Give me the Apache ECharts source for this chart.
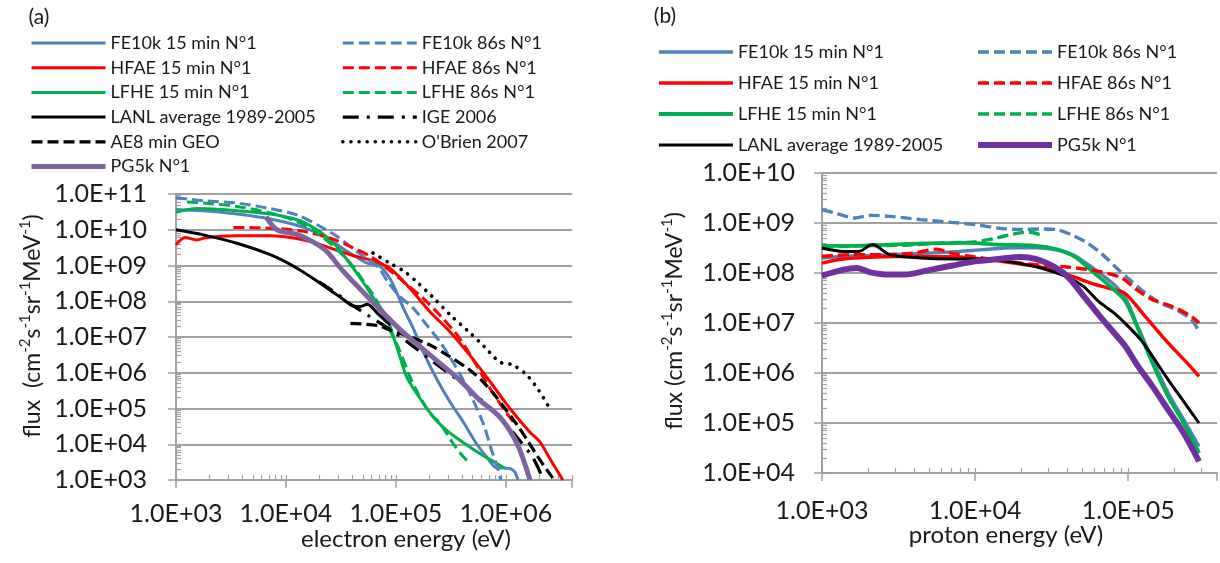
<!DOCTYPE html>
<html><head><meta charset="utf-8">
<script src="https://cdn.jsdelivr.net/npm/echarts@6/dist/echarts.min.js"></script>
<style>html,body{margin:0;padding:0;background:#fff}#c{width:1220px;height:563px}</style>
</head><body><div id="c"></div>
<script>
// ---------- Panel (a): electrons, [energy eV, flux] ----------
const aFE10k15 = [[1.0e3,3.6e10],[1.77e3,3.4e10],[3.57e3,2.75e10],[7.2e3,2.0e10],[1.45e4,1.16e10],[2.37e4,5.8e9],[3.6e4,2.5e9],[5.5e4,1.16e9],[7.2e4,9.4e8],[8.8e4,4.4e8],[1.01e5,1.87e8],[1.17e5,6.4e7],[1.44e5,1.75e7],[1.77e5,3.9e6],[2.34e5,6.9e5],[3.1e5,1.54e5],[4.1e5,4.2e4],[5.4e5,1.05e4],[6.7e5,4.4e3],[8.2e5,2.2e3],[1.09e6,2.1e3],[1.21e6,1.66e3],[1.29e6,1.0e3]];
const aFE10k86 = [[1.0e3,7.8e10],[1.77e3,6.5e10],[3.57e3,5.6e10],[7.2e3,3.9e10],[1.26e4,2.6e10],[2.06e4,1.23e10],[2.92e4,6.5e9],[4.4e4,2.45e9],[6.8e4,9.3e8],[8.8e4,2.9e8],[1.09e5,1.35e8],[1.44e5,6.4e7],[1.9e5,2.2e7],[2.51e5,7.4e6],[3.16e5,2.5e6],[4.0e5,7.1e5],[5.0e5,1.8e5],[6.3e5,3.5e4],[7.4e5,7.0e3],[8.3e5,2.5e3],[9.0e5,1.0e3]];
const aHFAE15 = [[1.0e3,3.8e9],[1.21e3,6.1e9],[1.54e3,5.2e9],[1.9e3,6.1e9],[3.57e3,6.8e9],[7.2e3,6.8e9],[1.1e4,6.1e9],[1.67e4,4.7e9],[2.54e4,3.06e9],[3.86e4,2.0e9],[5.8e4,1.44e9],[8.8e4,8.4e8],[1.34e5,2.3e8],[2.04e5,5.1e7],[3.1e5,1.41e7],[4.7e5,3.1e6],[7.2e5,5.6e5],[1.09e6,1.0e5],[1.65e6,2.2e4],[2.04e6,1.16e4],[2.51e6,4.0e3],[3.3e6,1.0e3]];
const aHFAE86 = [[3.33e3,1.16e10],[7.2e3,1.11e10],[1.45e4,9.0e9],[2.54e4,5.8e9],[3.86e4,3.4e9],[5.9e4,1.78e9],[7.7e4,1.0e9],[1.17e5,3.55e8],[1.77e5,1.21e8],[2.51e5,4.1e7],[3.8e5,9.2e6],[5.4e5,1.64e6],[7.2e5,3.6e5],[9.5e5,1.0e5],[1.17e6,4.2e4]];
const aLFHE15 = [[1.0e3,3.1e10],[1.54e3,3.9e10],[3.57e3,3.4e10],[7.2e3,2.75e10],[1.26e4,1.9e10],[1.92e4,1.0e10],[2.72e4,4.2e9],[3.6e4,1.45e9],[4.76e4,4.4e8],[6.3e4,1.21e8],[8.2e4,3.75e7],[9.5e4,1.02e7],[1.09e5,2.8e6],[1.25e5,7.8e5],[1.54e5,2.7e5],[2.18e5,5.9e4],[2.88e5,2.5e4],[3.8e5,1.32e4],[5.75e5,5.6e3],[8.2e5,2.95e3],[9.8e5,2.14e3]];
const aLFHE86 = [[1.26e3,6.0e10],[1.77e3,5.6e10],[3.57e3,4.5e10],[7.2e3,2.95e10],[1.26e4,1.7e10],[1.92e4,8.1e9],[2.72e4,3.4e9],[3.86e4,1.16e9],[5.1e4,3.55e8],[6.5e4,1.21e8],[8.8e4,1.58e7],[1.09e5,4.0e6],[1.34e5,7.8e5],[1.65e5,2.14e5],[2.04e5,7.4e4],[2.51e5,3.9e4],[3.3e5,1.07e4],[4.1e5,4.5e3],[4.7e5,2.95e3]];
const aLANL = [[1.0e3,1.0e10],[1.77e3,7.2e9],[3.57e3,4.2e9],[7.2e3,2.0e9],[1.26e4,8.4e8],[2.06e4,3.16e8],[3.36e4,1.1e8],[3.98e4,7.6e7],[4.76e4,7.1e7],[5.5e4,8.3e7],[6.8e4,4.6e7],[8.9e4,2.2e7]];
const aIGE = [[2.0e4,3.5e8],[2.95e4,1.6e8],[3.55e4,1.0e8],[5.6e4,4.0e7],[1.0e5,1.26e7],[2.0e5,2.5e6],[4.0e5,5.0e5],[7.9e5,7.9e4],[1.26e6,1.6e4],[1.78e6,4.0e3],[2.2e6,1.0e3]];
const aAE8 = [[3.86e4,2.4e7],[6.8e4,2.1e7],[8.8e4,1.57e7],[1.34e5,1.02e7],[2.04e5,6.0e6],[3.1e5,2.8e6],[4.7e5,1.19e6],[6.2e5,5.6e5],[8.2e5,2.1e5],[1.01e6,8.9e4],[1.26e6,3.55e4],[1.58e6,1.26e4],[2.0e6,4.0e3],[2.75e6,1.0e3]];
const aOBrien = [[6.2e4,2.24e9],[8.8e4,1.16e9],[1.17e5,7.1e8],[1.54e5,3.55e8],[2.19e5,1.26e8],[3.16e5,4.0e7],[4.6e5,1.41e7],[6.3e5,5.6e6],[8.8e5,2.0e6],[1.15e6,1.66e6],[1.55e6,8.7e5],[2.0e6,3.16e5],[2.51e6,1.0e5]];
const aPG5k = [[6.6e3,2.3e10],[8.3e3,1.0e10],[1.26e4,7.4e9],[1.78e4,4.5e9],[2.34e4,2.5e9],[3.3e4,7.1e8],[4.7e4,2.24e8],[7.1e4,6.0e7],[1.1e5,1.58e7],[1.66e5,5.4e6],[2.51e5,1.86e6],[3.8e5,6.3e5],[5.75e5,1.74e5],[8.9e5,5.6e4],[1.26e6,1.07e4],[1.66e6,1.0e3]];

// ---------- Panel (b): protons ----------
const bFE10k15 = [[1.0e3,2.0e8],[1.55e3,2.2e8],[2.77e3,2.33e8],[4.9e3,2.5e8],[7.9e3,2.7e8],[1.12e4,2.93e8],[1.78e4,3.2e8],[2.51e4,3.2e8],[3.57e4,2.84e8],[4.5e4,2.2e8],[6.0e4,1.2e8],[8.1e4,5.8e7],[9.6e4,3.16e7],[1.14e5,9.3e6],[1.44e5,1.85e6],[1.82e5,4.0e5],[2.3e5,1.17e5],[2.9e5,3.4e4]];
const bFE10k86 = [[1.0e3,1.85e9],[1.22e3,1.58e9],[1.64e3,1.26e9],[2.07e3,1.42e9],[2.77e3,1.36e9],[4.4e3,1.17e9],[7.0e3,1.03e9],[1.0e4,9.3e8],[1.41e4,7.9e8],[2.0e4,7.4e8],[2.67e4,7.6e8],[3.37e4,7.4e8],[4.26e4,5.8e8],[5.4e4,4.0e8],[6.8e4,2.33e8],[8.6e4,1.17e8],[1.02e5,7.4e7],[1.29e5,4.0e7],[1.62e5,2.5e7],[2.05e5,1.85e7],[2.58e5,1.17e7],[2.9e5,6.8e6]];
const bHFAE15 = [[1.0e3,1.58e8],[1.38e3,1.9e8],[2.46e3,2.1e8],[4.4e3,2.15e8],[7.9e3,2.1e8],[1.12e4,1.9e8],[1.78e4,1.58e8],[2.83e4,1.26e8],[4.0e4,9.3e7],[5.7e4,6.3e7],[8.1e4,4.6e7],[9.6e4,3.86e7],[1.29e5,1.36e7],[1.82e5,4.0e6],[2.43e5,1.58e6],[2.9e5,8.6e5]];
const bHFAE86 = [[1.0e3,2.15e8],[1.55e3,2.33e8],[2.46e3,2.33e8],[3.92e3,2.5e8],[5.6e3,3.0e8],[7.0e3,2.5e8],[1.0e4,2.1e8],[1.58e4,1.71e8],[2.51e4,1.47e8],[3.98e4,1.32e8],[6.4e4,1.08e8],[9.1e4,7.9e7],[1.14e5,4.6e7],[1.44e5,2.93e7],[1.93e5,2.15e7],[2.58e5,1.36e7],[2.9e5,1.0e7]];
const bLFHE15 = [[1.0e3,3.5e8],[1.55e3,3.5e8],[2.77e3,3.7e8],[4.9e3,3.9e8],[8.9e3,4.0e8],[1.41e4,3.7e8],[2.51e4,3.5e8],[3.37e4,3.0e8],[4.5e4,2.1e8],[6.0e4,1.0e8],[8.1e4,4.6e7],[9.6e4,2.7e7],[1.14e5,8.6e6],[1.44e5,1.58e6],[1.82e5,3.4e5],[2.3e5,1.0e5],[2.9e5,2.5e4]];
const bLFHE86 = [[1.0e3,3.3e8],[1.74e3,3.5e8],[3.5e3,3.6e8],[6.2e3,4.0e8],[1.0e4,4.2e8],[1.33e4,4.9e8],[1.78e4,6.0e8],[2.24e4,6.6e8],[2.67e4,5.8e8],[2.83e4,5.2e8]];
const bLANL = [[1.0e3,3.16e8],[1.38e3,2.7e8],[1.74e3,2.7e8],[2.13e3,3.7e8],[2.77e3,2.33e8],[4.4e3,2.0e8],[7.0e3,1.9e8],[1.0e4,1.9e8],[1.41e4,1.79e8],[2.0e4,1.54e8],[2.83e4,1.2e8],[4.0e4,8.3e7],[5.1e4,5.4e7],[6.4e4,2.7e7],[8.1e4,1.58e7],[9.6e4,9.7e6],[1.21e5,4.6e6],[1.44e5,2.15e6],[1.82e5,7.4e5],[2.3e5,2.7e5],[2.9e5,1.0e5]];
const bPG5k = [[1.0e3,8.9e7],[1.38e3,1.17e8],[1.69e3,1.26e8],[2.07e3,1.03e8],[2.77e3,9.3e7],[3.49e3,9.3e7],[4.9e3,1.13e8],[7.0e3,1.4e8],[1.0e4,1.71e8],[1.41e4,1.9e8],[2.0e4,2.1e8],[2.51e4,1.9e8],[3.18e4,1.4e8],[4.0e4,8.6e7],[5.1e4,3.5e7],[6.4e4,1.47e7],[8.1e4,6.3e6],[9.6e4,3.4e6],[1.14e5,1.47e6],[1.44e5,5.4e5],[1.82e5,1.85e5],[2.3e5,6.3e4],[2.9e5,1.7e4]];

// ---------- axes / ticks ----------
const aXRange = [1e3, 4e6];
const aYRange = [1e3, 1e11];
const bXRange = [1e3, 3.8e5];
const bYRange = [1e4, 1e10];
const minorSteps = [1,2,3,4,5,6,7,8,9];
const aXDecades = [1e3,1e4,1e5,1e6];
const aYDecades = [1e3,1e4,1e5,1e6,1e7,1e8,1e9,1e10];
const bXDecades = [1e3,1e4,1e5];
const bYDecades = [1e4,1e5,1e6,1e7,1e8,1e9];

const FONT = 'Lato';
const GRIDC = '#a0a0a0';
const TXT = '#1a1a1a';
const BLUE = '#4f81bd', RED = '#ff0000', GREEN = '#00b050', BLACK = '#000000', PURPLE_A = '#8064a2', PURPLE_B = '#7030a0';

function ticksIn(decades, range) {
  const out = [];
  decades.forEach(d => minorSteps.forEach(m => { const v = d * m; if (v >= range[0] && v <= range[1]) out.push(v); }));
  return out;
}
function expLabel(v) {
  const e = Math.log10(v), r = Math.round(e);
  if (Math.abs(e - r) > 1e-6) return '';
  return '1.0E+' + (r < 10 ? '0' : '') + r;
}

function majorAxis(gridIndex, range, isX, margin) {
  return {
    type: 'log', logBase: 10, gridIndex, min: range[0], max: range[1], splitNumber: 12,
    position: isX ? 'bottom' : 'left',
    axisLine: { show: true, lineStyle: { color: GRIDC, width: 2 } },
    axisTick: { show: true, inside: false, length: 8, lineStyle: { color: GRIDC, width: 1.5 } },
    axisLabel: { show: true, formatter: expLabel, margin, color: TXT, fontFamily: FONT, fontSize: 25 },
    splitLine: { show: !isX, lineStyle: { color: GRIDC, width: 2 } },
    minorTick: { show: false }
  };
}
function minorAxis(gridIndex, range, isX, values) {
  return {
    type: 'log', logBase: 10, gridIndex, min: range[0], max: range[1],
    position: isX ? 'bottom' : 'left',
    axisLine: { show: false },
    axisTick: { show: true, inside: true, length: 5, customValues: values, lineStyle: { color: GRIDC, width: 1.2 } },
    axisLabel: { show: false },
    splitLine: { show: false }
  };
}

function line(name, data, xi, color, width, type, cap) {
  return {
    name, type: 'line', data, xAxisIndex: xi, yAxisIndex: xi,
    symbol: 'none', showSymbol: false, smooth: 0.3, silent: true, animation: false,
    lineStyle: { color, width, type: type || 'solid', cap: cap || 'butt' },
    itemStyle: { color }
  };
}

const DASH = [11, 5];
const B = '\u200a#b';

const series = [
  line('FE10k 15 min N°1', aFE10k15, 0, BLUE, 3),
  line('HFAE 15 min N°1', aHFAE15, 0, RED, 3),
  line('LFHE 15 min N°1', aLFHE15, 0, GREEN, 3),
  line('FE10k 86s N°1', aFE10k86, 0, BLUE, 3, DASH),
  line('HFAE 86s N°1', aHFAE86, 0, RED, 3, DASH),
  line('LFHE 86s N°1', aLFHE86, 0, GREEN, 3, DASH),
  line('LANL average 1989-2005', aLANL, 0, BLACK, 3),
  line('IGE 2006', aIGE, 0, BLACK, 3.2, [16, 8, 3, 8]),
  line('AE8 min GEO', aAE8, 0, BLACK, 3.2, DASH),
  line("O'Brien 2007", aOBrien, 0, BLACK, 3.6, [0.1, 8], 'round'),
  line('PG5k N°1', aPG5k, 0, PURPLE_A, 5),

  line('FE10k 15 min N°1' + B, bFE10k15, 2, BLUE, 3.4),
  line('HFAE 15 min N°1' + B, bHFAE15, 2, RED, 3.4),
  line('LFHE 15 min N°1' + B, bLFHE15, 2, GREEN, 3.8),
  line('FE10k 86s N°1' + B, bFE10k86, 2, BLUE, 3.4, DASH),
  line('HFAE 86s N°1' + B, bHFAE86, 2, RED, 3.4, DASH),
  line('LFHE 86s N°1' + B, bLFHE86, 2, GREEN, 3.4, DASH),
  line('LANL average 1989-2005' + B, bLANL, 2, BLACK, 3),
  line('PG5k N°1' + B, bPG5k, 2, PURPLE_B, 6)
];

function legend(left, top, gap, names) {
  return {
    orient: 'vertical', left, top, padding: 0, itemGap: gap, itemWidth: 74, itemHeight: 20,
    data: names, selectedMode: false,
    formatter: n => n.replace(B, ''),
    textStyle: { fontFamily: FONT, fontSize: 18, color: TXT, lineHeight: 20 },
    lineStyle: { width: 'inherit' },
    itemStyle: { opacity: 0 }
  };
}

const supRich = {
  n: { fontFamily: FONT, fontSize: 23, fill: TXT, verticalAlign: 'bottom', lineHeight: 30 },
  s: { fontFamily: FONT, fontSize: 15, fill: TXT, verticalAlign: 'bottom', lineHeight: 30, padding: [0, 0, 11, 0] }
};

const chart = echarts.init(document.getElementById('c'), null, { renderer: 'canvas' });
chart.setOption({
  animation: false,
  backgroundColor: '#ffffff',
  grid: [
    { left: 176, top: 194, width: 396, height: 286 },
    { left: 822, top: 173, width: 398, height: 300 }
  ],
  xAxis: [
    majorAxis(0, aXRange, true, 21),
    minorAxis(0, aXRange, true, ticksIn(aXDecades, aXRange)),
    majorAxis(1, bXRange, true, 25),
    minorAxis(1, bXRange, true, ticksIn(bXDecades, bXRange))
  ],
  yAxis: [
    majorAxis(0, aYRange, false, 29),
    minorAxis(0, aYRange, false, ticksIn(aYDecades, aYRange)),
    majorAxis(1, bYRange, false, 27),
    minorAxis(1, bYRange, false, ticksIn(bYDecades, bYRange))
  ],
  legend: [
    legend(29, 33, 4.7, ['FE10k 15 min N°1', 'HFAE 15 min N°1', 'LFHE 15 min N°1', 'LANL average 1989-2005', 'AE8 min GEO', 'PG5k N°1']),
    legend(341, 33, 4.7, ['FE10k 86s N°1', 'HFAE 86s N°1', 'LFHE 86s N°1', 'IGE 2006', "O'Brien 2007"]),
    legend(657, 42, 11, ['FE10k 15 min N°1' + B, 'HFAE 15 min N°1' + B, 'LFHE 15 min N°1' + B, 'LANL average 1989-2005' + B]),
    legend(975, 42, 11, ['FE10k 86s N°1' + B, 'HFAE 86s N°1' + B, 'LFHE 86s N°1' + B, 'PG5k N°1' + B])
  ],
  graphic: [
    { type: 'text', x: 39, y: 17, style: { text: '(a)', fontFamily: FONT, fontSize: 21, fill: TXT, align: 'center', verticalAlign: 'middle' } },
    { type: 'text', x: 665, y: 16, style: { text: '(b)', fontFamily: FONT, fontSize: 21, fill: TXT, align: 'center', verticalAlign: 'middle' } },
    { type: 'text', x: 406, y: 539, style: { text: 'electron energy (eV)', fontFamily: FONT, fontSize: 24, fill: TXT, align: 'center', verticalAlign: 'middle' } },
    { type: 'text', x: 1006, y: 535, style: { text: 'proton energy (eV)', fontFamily: FONT, fontSize: 24, fill: TXT, align: 'center', verticalAlign: 'middle' } },
    { type: 'text', x: 29, y: 326, rotation: Math.PI / 2,
      style: { text: '{n|flux  (cm}{s|-2}{n|s}{s|-1}{n|sr}{s|-1}{n|MeV}{s|-1}{n|)}', align: 'center', verticalAlign: 'middle', rich: supRich } },
    { type: 'text', x: 671, y: 321, rotation: Math.PI / 2,
      style: { text: '{n|flux (cm}{s|-2}{n|s}{s|-1}{n|sr}{s|-1}{n|MeV}{s|-1}{n|)}', align: 'center', verticalAlign: 'middle', rich: supRich } }
  ],
  series
});
</script></body></html>
